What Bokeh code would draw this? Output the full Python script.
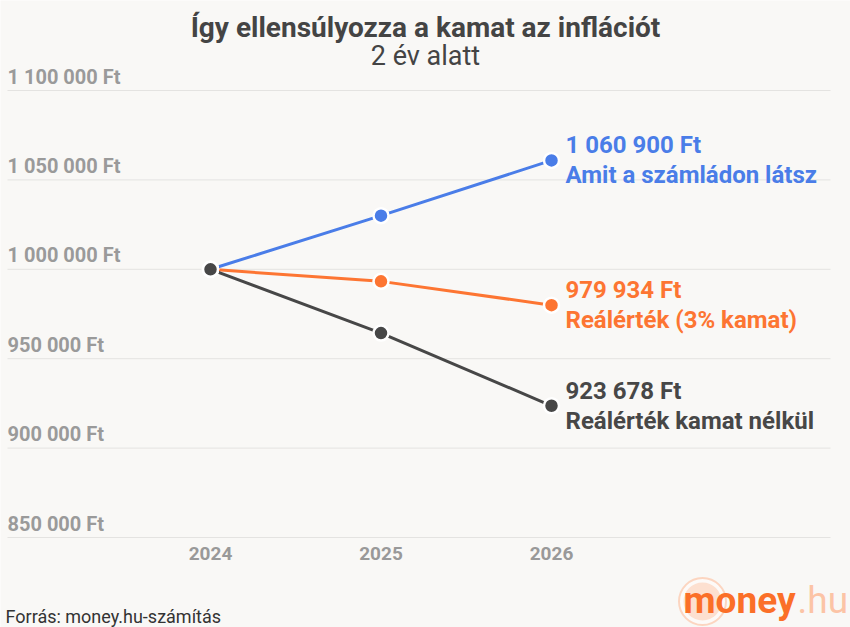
from bokeh.plotting import figure
from bokeh.models import Range1d, Label, ColumnDataSource
from bokeh.core.properties import value
from bokeh.embed import file_html
from bokeh.resources import INLINE

years = [2024, 2025, 2026]
year_labels = ["2024", "2025", "2026"]
nominal = [1000000, 1030000, 1060900]
real_with_interest = [1000000, 993250, 979934]
real_no_interest = [1000000, 964320, 923678]
series_names = ["Amit a számládon látsz", "Reálérték (3% kamat)", "Reálérték kamat nélkül"]
end_value_labels = ["1 060 900 Ft", "979 934 Ft", "923 678 Ft"]
y_ticks = [850000, 900000, 950000, 1000000, 1050000, 1100000]
y_tick_labels = ["850 000 Ft", "900 000 Ft", "950 000 Ft", "1 000 000 Ft", "1 050 000 Ft", "1 100 000 Ft"]
title_text = "Így ellensúlyozza a kamat az inflációt"
subtitle_text = "2 év alatt"
source_text = "Forrás: money.hu-számítás"

BG = "#f9f8f6"
BLUE = "#4a7de8"
ORANGE = "#fd7532"
DARK = "#474747"
GRID = "#e4e3e1"
FONT = "Roboto"

W, H = 850, 627
# layout (pixels): where the first year sits and year spacing; where top/bottom gridlines sit
px_first_year, px_per_year = 210, 170.5
py_top_grid, py_bottom_grid = 90, 537
grid_px_left, grid_px_right = 7, 830

v_per_px = (y_ticks[-1] - y_ticks[0]) / (py_bottom_grid - py_top_grid)
x_start = years[0] - px_first_year / px_per_year
x_end = years[0] + (W - px_first_year) / px_per_year
y_end = y_ticks[-1] + py_top_grid * v_per_px
y_start = y_ticks[0] - (H - py_bottom_grid) * v_per_px
gx0 = years[0] - (px_first_year - grid_px_left) / px_per_year
gx1 = years[0] + (grid_px_right - px_first_year) / px_per_year


def to_data(px, py):
    return (x_start + px / px_per_year, y_end - py * v_per_px)


p = figure(width=W, height=H, output_backend="svg", toolbar_location=None,
           x_range=Range1d(x_start, x_end), y_range=Range1d(y_start, y_end),
           min_border=0, background_fill_color=BG, border_fill_color=BG,
           outline_line_color=None)
p.axis.visible = False
p.grid.visible = False

# gridlines
p.segment(x0=[gx0] * len(y_ticks), x1=[gx1] * len(y_ticks), y0=y_ticks, y1=y_ticks,
          line_color=GRID, line_width=1)

# y tick labels above gridlines
tick_src = ColumnDataSource(dict(x=[gx0] * len(y_ticks), y=y_ticks, t=y_tick_labels))
p.text(x="x", y="y", text="t", source=tick_src, text_font=value(FONT), text_font_style="bold",
       text_font_size="20px", text_color="#9a9a9a", text_baseline="bottom", text_align="left",
       y_offset=-2)

# x tick labels below bottom gridline
p.text(x=years, y=[y_ticks[0]] * len(years), text=year_labels, text_font=value(FONT),
       text_font_style="bold", text_font_size="19px", text_color="#999999",
       text_baseline="middle", text_align="center", y_offset=16)

series = [(nominal, BLUE), (real_with_interest, ORANGE), (real_no_interest, DARK)]
for vals, col in series:
    p.line(years, vals, line_color=col, line_width=3)
for vals, col in series:
    p.scatter(years, vals, size=15, fill_color=col, line_color="white", line_width=2.5)

for (vals, col), v_lab, name in zip(series, end_value_labels, series_names):
    p.text(x=[years[-1]], y=[vals[-1]], text=[v_lab], text_font=value(FONT), text_font_style="bold",
           text_font_size="24px", text_color=col, text_baseline="middle", x_offset=14, y_offset=-15)
    p.text(x=[years[-1]], y=[vals[-1]], text=[name], text_font=value(FONT), text_font_style="bold",
           text_font_size="24px", text_color=col, text_baseline="middle", x_offset=14, y_offset=15)


def lab(px, py, text, **kw):
    p.add_layout(Label(x=px, y=H - py, x_units="screen", y_units="screen", text=text, **kw))


# titles and footer
lab(425, 27, title_text, text_font=FONT, text_font_style="bold", text_font_size="28px",
    text_color="#444444", text_align="center", text_baseline="middle")
lab(425, 55, subtitle_text, text_font=FONT, text_font_size="27px", text_color="#444444",
    text_align="center", text_baseline="middle")
lab(5, 616, source_text, text_font=FONT, text_font_size="18px", text_color="#333333",
    text_align="left", text_baseline="middle")

# logo badge circles
lx, ly = to_data(702, 601)
p.scatter([lx], [ly], size=47, fill_color="#fdfaf8", line_color="#fcd5c0", line_width=2)
p.scatter([lx], [ly], size=38, fill_color="#fde0d0", line_color=None)
lab(683, 600, "money", text_font=FONT, text_font_style="bold", text_font_size="37px",
    text_color="#fb6f28", text_align="left", text_baseline="middle")
lab(797, 600, ".hu", text_font=FONT, text_font_size="37px", text_color="#fcc4a6",
    text_align="left", text_baseline="middle")

open("out.html", "w").write(file_html(p, INLINE))
